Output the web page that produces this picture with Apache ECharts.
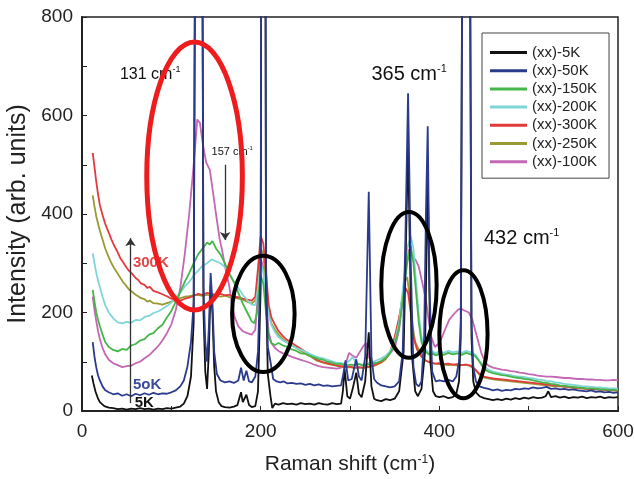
<!DOCTYPE html>
<html>
<head>
<meta charset="utf-8">
<script src="https://cdn.jsdelivr.net/npm/echarts@6.0.0/dist/echarts.min.js"></script>
<style>
  html, body { margin: 0; padding: 0; background: #fff; }
  #main { width: 634px; height: 479px; }
</style>
</head>
<body>
<div id="main"></div>
<script>
// Raman spectra, (xx) polarisation: [shift cm-1, intensity]
const k5 = [[11,72],[13,55],[15,40],[18,25],[20,18],[25,10],[30,7],[35,6],[40,4],[45,5],[50,3],[55,5],[60,4],[65,6],[70,4],[75,5],[80,3],[85,5],[90,4],[95,6],[100,5],[105,7],[110,9],[114,15],[118,30],[122,70],[125,180],[131,3100],[136,200],[138,80],[140,45],[142,120],[144,255],[146,200],[148,90],[150,40],[153,18],[156,10],[160,8],[165,7],[170,9],[174,12],[178,38],[180,18],[184,33],[187,12],[190,8],[194,10],[197,40],[200,250],[203,3500],[206,250],[208,75],[211,30],[213,6],[216,15],[220,13],[225,16],[230,14],[235,15],[240,13],[245,16],[250,14],[255,15],[260,13],[265,16],[270,14],[275,13],[280,16],[285,14],[290,15],[292,40],[294,85],[297,30],[300,25],[303,45],[307,78],[310,35],[313,28],[317,60],[321,160],[324,50],[327,25],[330,22],[335,20],[340,24],[345,22],[350,25],[355,40],[360,120],[365,540],[369,120],[373,40],[376,30],[380,45],[384,120],[387,480],[390,100],[393,40],[396,30],[400,28],[405,30],[410,26],[415,28],[419,35],[422,60],[424,150],[430,3000],[436,150],[438,60],[441,38],[445,30],[450,26],[455,24],[460,22],[465,24],[470,22],[475,25],[480,23],[485,26],[490,24],[495,27],[500,25],[505,28],[510,26],[515,27],[519,30],[522,40],[525,28],[530,30],[535,27],[540,29],[545,26],[550,28],[555,27],[560,29],[565,26],[570,28],[575,27],[580,29],[585,26],[590,28],[595,27],[600,28]];

const k50 = [[12,140],[14,110],[16,88],[18,72],[20,62],[23,50],[26,42],[30,38],[35,34],[40,36],[45,31],[50,34],[55,30],[60,35],[65,32],[70,36],[75,33],[80,37],[85,34],[90,36],[95,35],[100,38],[105,42],[110,50],[114,62],[118,90],[122,140],[125,220],[131,3100],[136,250],[138,140],[140,100],[142,170],[144,280],[146,220],[148,120],[151,75],[155,62],[160,58],[165,60],[170,57],[175,62],[178,88],[181,62],[184,82],[187,60],[190,58],[194,70],[197,120],[200,300],[203,3500],[206,300],[208,130],[211,100],[214,65],[218,60],[222,58],[226,60],[230,56],[235,57],[240,55],[245,56],[250,53],[255,55],[260,52],[265,54],[270,51],[275,52],[280,50],[285,51],[290,52],[292,70],[295,103],[298,62],[302,65],[305,90],[307,105],[310,70],[313,62],[317,110],[321,445],[324,110],[327,65],[330,58],[335,52],[340,50],[345,48],[350,50],[355,60],[359,120],[362,350],[365,645],[368,300],[371,90],[374,55],[377,50],[380,60],[383,150],[385,400],[387,578],[389,250],[392,80],[396,60],[400,62],[405,60],[410,63],[415,60],[419,70],[422,100],[424,180],[430,3000],[436,180],[438,90],[441,60],[445,50],[450,47],[455,45],[460,42],[465,44],[470,41],[475,43],[480,42],[485,45],[490,44],[495,46],[500,45],[505,48],[510,46],[515,47],[520,49],[525,45],[530,46],[535,44],[540,45],[545,43],[550,44],[555,42],[560,41],[565,40],[570,42],[575,39],[580,40],[585,38],[590,39],[595,37],[600,38]];

const k150 = [[12,246],[14,222],[16,200],[18,185],[20,172],[23,155],[26,140],[30,130],[35,124],[40,121],[45,126],[50,124],[55,133],[60,136],[65,143],[70,146],[75,155],[80,158],[85,168],[90,175],[95,190],[100,203],[105,222],[110,242],[115,262],[120,280],[125,300],[130,318],[135,330],[140,342],[143,338],[146,345],[150,330],[155,318],[160,300],[165,278],[170,262],[175,240],[180,218],[185,200],[190,182],[193,178],[196,200],[198,245],[200,275],[203,258],[206,200],[209,150],[212,138],[216,134],[220,138],[225,133],[230,130],[235,125],[240,122],[245,117],[250,116],[255,112],[260,109],[265,106],[270,104],[275,100],[280,98],[285,95],[290,96],[295,92],[300,94],[305,93],[310,95],[315,92],[320,94],[325,96],[330,98],[335,102],[340,108],[345,118],[350,135],[355,170],[360,240],[364,300],[368,335],[371,300],[374,240],[377,180],[380,140],[384,122],[388,115],[392,117],[396,113],[400,116],[405,114],[410,118],[415,115],[420,117],[425,114],[430,118],[435,115],[440,112],[445,100],[450,85],[455,80],[460,77],[465,75],[470,73],[475,72],[480,70],[485,68],[490,67],[495,65],[500,64],[505,62],[510,60],[515,58],[520,57],[525,55],[530,54],[535,52],[540,51],[545,50],[550,49],[555,48],[560,47],[565,46],[570,46],[575,45],[580,44],[585,44],[590,43],[595,43],[600,42]];

const k200 = [[12,320],[14,300],[16,280],[18,265],[20,252],[23,232],[26,215],[30,200],[35,188],[40,180],[45,178],[50,181],[55,179],[60,185],[65,184],[70,191],[75,193],[80,199],[85,202],[90,207],[95,213],[100,220],[105,231],[110,240],[115,253],[120,262],[125,275],[130,285],[135,295],[140,300],[145,308],[150,304],[155,300],[160,292],[165,280],[170,262],[175,250],[180,236],[185,225],[190,216],[194,215],[197,250],[200,300],[203,282],[206,230],[209,195],[212,175],[216,160],[220,150],[225,143],[230,138],[235,133],[240,128],[245,124],[250,120],[255,116],[260,112],[265,109],[270,107],[275,104],[280,101],[285,98],[290,97],[295,96],[300,103],[303,110],[306,100],[310,95],[315,94],[320,97],[325,99],[330,103],[335,107],[340,112],[345,122],[350,140],[355,180],[360,260],[364,330],[368,355],[371,330],[374,260],[377,195],[380,150],[384,126],[388,118],[392,121],[396,117],[400,121],[405,118],[410,122],[415,119],[420,121],[425,118],[430,122],[435,119],[440,115],[445,102],[450,90],[455,84],[460,80],[465,78],[470,76],[475,74],[480,73],[485,71],[490,70],[495,69],[500,67],[505,66],[510,64],[515,63],[520,61],[525,60],[530,58],[535,57],[540,55],[545,54],[550,53],[555,52],[560,50],[565,50],[570,49],[575,48],[580,48],[585,47],[590,46],[595,46],[600,45]];

const k300 = [[12,524],[14,495],[16,465],[18,440],[20,418],[23,398],[26,380],[30,362],[33,348],[36,336],[40,322],[43,310],[46,302],[50,291],[53,284],[56,279],[60,270],[63,266],[66,259],[70,256],[73,250],[76,252],[80,244],[85,241],[90,237],[95,233],[100,228],[105,226],[110,224],[115,228],[120,230],[125,234],[130,238],[135,236],[140,240],[145,238],[150,236],[155,238],[160,235],[165,236],[170,232],[175,231],[180,228],[185,226],[190,224],[194,232],[197,290],[200,355],[203,340],[206,280],[209,215],[212,190],[216,175],[220,162],[225,152],[229,145],[235,138],[240,132],[247,124],[252,118],[258,110],[263,104],[270,99],[276,96],[284,93],[290,91],[295,89],[300,90],[305,88],[310,89],[315,88],[321,90],[326,92],[330,95],[335,100],[340,108],[345,120],[350,150],[355,190],[359,230],[362,250],[365,240],[368,200],[371,150],[375,125],[380,110],[385,102],[390,98],[395,96],[400,97],[405,95],[410,96],[415,94],[420,95],[425,93],[430,94],[435,92],[440,85],[445,75],[450,70],[455,68],[460,66],[465,65],[470,64],[475,63],[480,62],[485,61],[490,60],[495,59],[500,58],[505,57],[510,56],[515,55],[520,54],[525,53],[530,52],[535,51],[540,50],[545,49],[550,48],[555,47],[560,46],[565,45],[570,45],[575,44],[580,44],[585,43],[590,43],[595,42],[600,42]];

const k250 = [[12,438],[14,415],[16,395],[18,380],[20,366],[23,348],[26,330],[30,312],[33,300],[36,290],[40,279],[43,270],[46,262],[50,253],[53,246],[56,242],[60,236],[63,233],[66,229],[70,227],[73,222],[76,224],[80,219],[85,218],[90,216],[95,219],[100,222],[105,226],[110,229],[115,232],[120,233],[125,235],[130,236],[135,234],[140,236],[145,233],[150,234],[155,232],[160,234],[165,231],[170,230],[175,228],[180,226],[185,222],[190,218],[194,225],[197,275],[200,330],[203,318],[206,255],[209,200],[212,178],[216,165],[220,155],[225,146],[229,140],[235,133],[240,128],[247,120],[252,115],[258,108],[263,102],[270,98],[276,95],[284,92],[290,90],[295,88],[300,89],[305,87],[310,88],[315,87],[321,89],[326,91],[330,94],[335,98],[340,105],[345,118],[350,145],[355,185],[359,235],[362,265],[364,272],[367,230],[370,175],[373,140],[377,125],[381,110],[385,102],[390,99],[395,96],[400,95],[405,94],[410,93],[415,94],[420,92],[425,93],[430,94],[435,91],[440,84],[445,74],[450,68],[455,66],[460,64],[465,63],[470,62],[475,61],[480,60],[485,59],[490,58],[495,57],[500,56],[505,55],[510,54],[515,53],[520,52],[525,51],[530,50],[535,50],[540,49],[545,48],[550,47],[555,46],[560,46],[565,45],[570,44],[575,44],[580,43],[585,43],[590,42],[595,42],[600,41]];

const k100 = [[12,232],[14,205],[16,182],[18,162],[20,146],[23,128],[26,115],[30,104],[35,97],[40,93],[45,89],[50,91],[55,92],[60,97],[65,100],[70,107],[75,113],[80,122],[85,131],[90,143],[95,158],[100,176],[105,205],[110,250],[115,318],[120,400],[125,500],[129,592],[132,585],[135,545],[139,505],[143,490],[147,440],[150,400],[154,350],[157,325],[161,285],[165,252],[168,215],[171,190],[175,172],[180,162],[185,158],[190,155],[194,165],[197,240],[200,310],[203,290],[206,220],[209,160],[212,138],[216,128],[220,122],[225,117],[230,114],[235,110],[240,107],[245,104],[250,101],[255,98],[260,94],[265,91],[270,89],[275,88],[280,87],[285,86],[290,88],[295,95],[299,118],[303,112],[307,108],[311,120],[315,132],[318,138],[321,110],[325,96],[330,96],[335,100],[340,108],[345,118],[350,128],[355,165],[359,230],[363,300],[366,328],[370,315],[374,305],[377,293],[381,260],[385,225],[388,185],[391,150],[395,130],[400,138],[403,150],[407,168],[411,185],[414,192],[418,200],[421,206],[424,208],[428,204],[433,200],[437,185],[440,165],[444,138],[447,118],[451,100],[455,92],[460,88],[465,86],[470,84],[475,83],[480,81],[485,80],[490,78],[495,77],[500,75],[505,74],[510,72],[515,71],[520,70],[525,70],[530,69],[535,68],[540,67],[545,67],[550,66],[555,65],[560,65],[565,64],[570,64],[575,63],[580,63],[585,62],[590,62],[595,63],[600,62]];

const legendNames = ['(xx)-5K', '(xx)-50K', '(xx)-150K', '(xx)-200K', '(xx)-300K', '(xx)-250K', '(xx)-100K'];
const xTicks = [0, 200, 400, 600];

// annotations in data units: [cx, cy, rx, ry]
const redRing = [126, 477, 53.5, 272];
const blackRings = [[203, 197, 35, 118], [366, 256, 31, 148], [427, 156, 27, 130]];
// peak labels [x, y, text, size]
const peakLabels = [[42.5, 684, '131 cm', 16], [145, 526, '157 cm', 11], [324, 684, '365 cm', 20], [450, 351, '432 cm', 20]];
const tempLabels = [[57, 300, '300K', '#e04848'], [57, 54, '5oK', '#3a4a9c'], [59, 16, '5K', '#111']];
const arrows = [[[54.3, 16], [54.3, 351]], [[160.2, 500], [160.2, 347]]];

const font = 'Liberation Sans, Arial, sans-serif';
const chart = echarts.init(document.getElementById('main'));

function line (name, data, color, extra) {
  return Object.assign({
    name: name,
    type: 'line',
    data: data,
    symbol: 'none',
    clip: true,
    lineStyle: { color: color, width: 1.8 },
    itemStyle: { color: color },
    emphasis: { disabled: true }
  }, extra || {})
}

const option = {
  animation: false,
  backgroundColor: '#fff',
  grid: { left: 82, right: 16, top: 17, bottom: 68, show: true, borderColor: '#222', borderWidth: 1.5, outerBoundsMode: 'none' },
  legend: {
    data: legendNames,
    orient: 'vertical',
    left: 482,
    top: 33,
    icon: 'rect',
    itemWidth: 37,
    itemHeight: 3,
    itemGap: 3.2,
    itemTextGap: 4,
    padding: [12, 12, 9, 8],
    borderColor: '#444',
    borderWidth: 1,
    backgroundColor: '#fff',
    textStyle: { fontFamily: font, fontSize: 15, color: '#222', lineHeight: 14 }
  },
  xAxis: {
    type: 'value',
    min: 0, max: 600, interval: 200,
    name: 'Raman shift (cm{s|-1})',
    nameLocation: 'middle',
    nameGap: 43,
    nameTextStyle: { fontFamily: font, fontSize: 21, color: '#222', rich: { s: { fontSize: 12, verticalAlign: 'top', fontFamily: font, color: '#222' } } },
    axisLine: { lineStyle: { color: '#222', width: 2 } },
    axisTick: { inside: true, length: 5, lineStyle: { color: '#222' } },
    minorTick: { show: true, splitNumber: 2, length: 5, lineStyle: { color: '#222' } },
    splitLine: { show: false },
    axisLabel: { fontFamily: font, fontSize: 19, color: '#222', margin: 11, customValues: xTicks }
  },
  yAxis: {
    type: 'value',
    min: 0, max: 800, interval: 200,
    name: 'Intensity (arb. units)',
    nameLocation: 'middle',
    nameGap: 51,
    nameTextStyle: { fontFamily: font, fontSize: 25, color: '#222' },
    axisLine: { show: true, lineStyle: { color: '#222', width: 2 } },
    axisTick: { show: true, inside: true, length: 5, lineStyle: { color: '#222' } },
    minorTick: { show: true, splitNumber: 2, length: 5, lineStyle: { color: '#222' } },
    splitLine: { show: false },
    axisLabel: { fontFamily: font, fontSize: 19, color: '#222', margin: 9 }
  },
  series: [
    line('(xx)-100K', k100, '#c467b4'),
    line('(xx)-250K', k250, '#9a9a34'),
    line('(xx)-300K', k300, '#e23b3b'),
    line('(xx)-200K', k200, '#7fd6d9'),
    line('(xx)-150K', k150, '#45b649'),
    line('(xx)-5K', k5, '#111111', {
      markLine: {
        silent: true,
        symbol: ['none', 'arrow'],
        symbolSize: 8,
        label: { show: false },
        lineStyle: { color: '#333', width: 1.3, type: 'solid' },
        data: arrows.map(a => [{ coord: a[0] }, { coord: a[1] }])
      }
    }),
    line('(xx)-50K', k50, '#2b3a8c')
  ]
};
chart.setOption(option);

// ellipses and text annotations placed from data coordinates
const px = (x, y) => chart.convertToPixel({ gridIndex: 0 }, [x, y]);
function ring (r, color, w) {
  const c = px(r[0], r[1]);
  const e = px(r[0] + r[2], r[1] + r[3]);
  return {
    type: 'ellipse', z: 100,
    shape: { cx: c[0], cy: c[1], rx: e[0] - c[0], ry: c[1] - e[1] },
    style: { fill: null, stroke: color, lineWidth: w }
  };
}
const graphics = [ring(redRing, '#ee1c1c', 5)];
blackRings.forEach(r => graphics.push(ring(r, '#000', 4)));
peakLabels.forEach(p => {
  const c = px(p[0], p[1]);
  graphics.push({
    type: 'text', z: 90, x: c[0], y: c[1],
    style: {
      text: '{n|' + p[2] + '}{s|-1}',
      verticalAlign: 'middle',
      rich: {
        n: { fontFamily: font, fontSize: p[3], fill: '#111', lineHeight: p[3] + 2 },
        s: { fontFamily: font, fontSize: Math.round(p[3] * 0.55), fill: '#111', verticalAlign: 'top', lineHeight: p[3] * 0.6 }
      }
    }
  });
});
tempLabels.forEach(t => {
  const c = px(t[0], t[1]);
  graphics.push({
    type: 'text', z: 90, x: c[0], y: c[1],
    style: { text: t[2], fontFamily: font, fontSize: 15, fontWeight: 'bold', fill: t[3], verticalAlign: 'middle' }
  });
});
chart.setOption({ graphic: graphics });
</script>
</body>
</html>
